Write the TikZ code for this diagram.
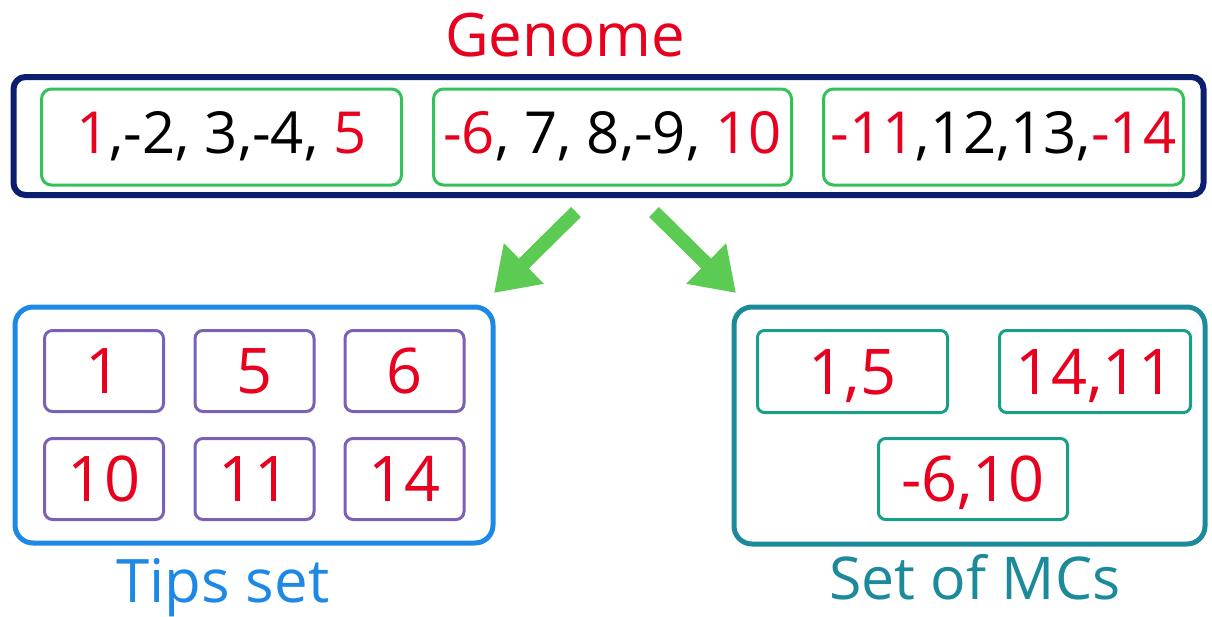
\documentclass[tikz,border=0pt]{standalone}
\usepackage{fontspec}
\setmainfont{Open Sans}
\usetikzlibrary{arrows.meta}
\definecolor{gred}{HTML}{E8001E}
\definecolor{navy}{HTML}{0B1F6E}
\definecolor{gbox}{HTML}{34C15A}
\definecolor{garrow}{HTML}{5CCB54}
\definecolor{tblue}{HTML}{1E88E5}
\definecolor{tpurple}{HTML}{7B60B6}
\definecolor{mteal}{HTML}{1C8A9B}
\definecolor{mgreen}{HTML}{17A087}
\tikzset{
  genbox/.style={draw=gbox,line width=3pt,rounded corners=10pt,minimum width=360pt,minimum height=96pt,
    inner sep=0pt,text height=42pt,text depth=10pt,font=\fontsize{58}{60}\selectfont},
  tipbox/.style={draw=tpurple,line width=3pt,rounded corners=8pt,minimum width=119pt,minimum height=81pt,
    inner sep=0pt,text height=45pt,text depth=0pt,text=gred,font=\fontsize{63}{65}\selectfont},
  mcbox/.style={draw=mgreen,line width=3pt,rounded corners=7pt,minimum width=190pt,minimum height=82pt,
    inner sep=0pt,text height=45pt,text depth=0pt,text=gred,font=\fontsize{63}{65}\selectfont},
  bigarrow/.style={draw=garrow,line width=14pt,-{Triangle[width=54pt,length=42pt]},fill=garrow},
  title/.style={anchor=base,inner sep=0pt,font=\fontsize{60}{62}\selectfont}
}
\begin{document}
\begin{tikzpicture}[x=1pt,y=-1pt]
\useasboundingbox (0,0) rectangle (1212,616);
% Genome
\node[title,text=gred] (gtitle) at (565,56) {Genome};
\node[draw=navy,line width=6pt,rounded corners=12pt,minimum width=1190pt,minimum height=118pt] (genome) at (608.5,136) {};
\node[genbox] (g1) at (221.5,137) {\textcolor{gred}{1},-2, 3,-4, \textcolor{gred}{5}};
\node[genbox,minimum width=358pt] (g2) at (612.5,137) {\textcolor{gred}{-6}, 7, 8,-9, \textcolor{gred}{10}};
\node[genbox] (g3) at (1003.5,137) {\textcolor{gred}{-11},12,13,\textcolor{gred}{-14}};
% arrows
\coordinate (a1s) at (576,212);
\coordinate (a1e) at (494,293);
\coordinate (a2s) at (654,212);
\coordinate (a2e) at (736,293);
\draw[bigarrow] (a1s) -- (a1e);
\draw[bigarrow] (a2s) -- (a2e);
% Tips set
\node[draw=tblue,line width=5pt,rounded corners=18pt,minimum width=478pt,minimum height=236pt] (tips) at (254,425) {};
\node[tipbox] (t1) at (104,371) {1};
\node[tipbox] (t5) at (254.5,371) {5};
\node[tipbox] (t6) at (404.5,371) {6};
\node[tipbox] (t10) at (104,479) {10};
\node[tipbox] (t11) at (254.5,479) {11};
\node[tipbox] (t14) at (404.5,479) {14};
\node[title,text=tblue] (tipslabel) at (223,602) {Tips set};
% Set of MCs
\node[draw=mteal,line width=5pt,rounded corners=18pt,minimum width=471pt,minimum height=237pt] (mcs) at (969.5,425.5) {};
\node[mcbox] (m1) at (852.5,371.5) {1,5};
\node[mcbox,minimum width=191pt] (m2) at (1095,371.5) {14,11};
\node[mcbox,minimum width=189pt,minimum height=81pt] (m3) at (973,479) {-6,10};
\node[title,text=mteal,font=\fontsize{59}{61}\selectfont] (mclabel) at (975,599) {Set of MCs};
\end{tikzpicture}
\end{document}
